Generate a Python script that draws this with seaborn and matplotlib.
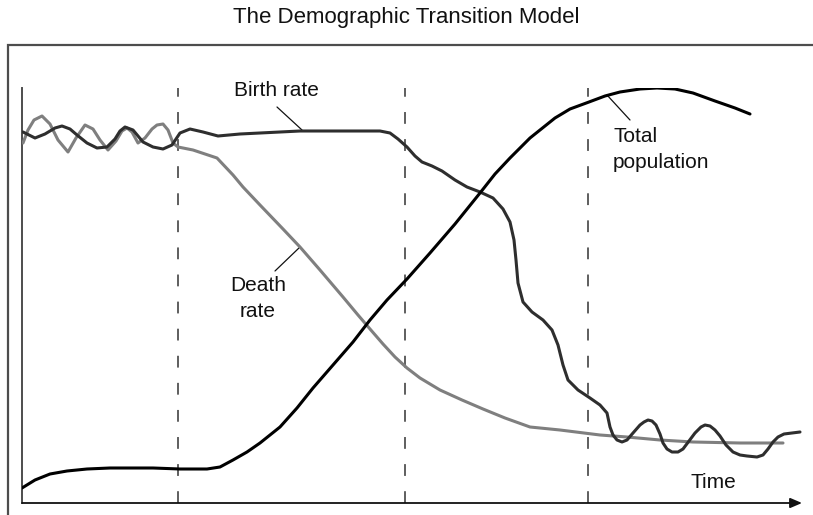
import matplotlib
matplotlib.use("Agg")
import matplotlib.pyplot as plt
from matplotlib.patches import Rectangle
import seaborn as sns
import pandas as pd

# Time runs left to right in arbitrary units; levels are arbitrary units too.
birth_t = [1, 13, 23, 33, 40, 48, 55, 65, 75, 85, 93, 98, 103, 111, 121, 131, 141, 150, 154, 158,
           168, 181, 196, 218, 238, 278, 318, 358, 368, 376, 385, 393, 400, 410, 420, 433, 445, 458,
           471, 481, 488, 492, 494, 496, 501, 510, 521, 530, 536, 541, 546, 556, 568, 578, 585, 588,
           591, 595, 600, 605, 611, 618, 622, 626, 630, 634, 638, 641, 645, 650, 656, 661, 667, 673,
           679, 683, 688, 693, 698, 704, 711, 718, 725, 735, 741, 746, 751, 756, 762, 770, 778]
birth_v = [371, 365, 369, 375, 377, 374, 368, 360, 355, 356, 364, 372, 376, 373, 361, 356, 354, 358,
           364, 370, 374, 371, 367, 369, 370, 372, 372, 372, 370, 364, 356, 347, 341, 337, 332, 323,
           316, 311, 305, 294, 281, 263, 243, 220, 201, 191, 183, 173, 158, 138, 123, 113, 105, 98,
           90, 76, 68, 63, 61, 63, 70, 78, 81, 83, 82, 78, 69, 60, 54, 51, 51, 54, 62, 70, 76, 78,
           77, 73, 67, 58, 51, 48, 47, 46, 48, 54, 61, 66, 69, 70, 71]

death_t = [1, 6, 12, 20, 28, 36, 46, 54, 63, 71, 78, 86, 94, 100, 105, 110, 116, 123, 130, 135,
           141, 146, 151, 156, 171, 195, 211, 221, 238, 261, 278, 298, 321, 336, 348, 361, 373, 385,
           398, 418, 440, 461, 483, 508, 538, 578, 605, 638, 671, 718, 761]
death_v = [360, 373, 383, 387, 379, 363, 351, 365, 378, 374, 363, 353, 362, 372, 375, 371, 360, 365,
           374, 378, 379, 373, 360, 356, 353, 345, 328, 316, 298, 274, 256, 233, 206, 188, 174, 159,
           146, 135, 125, 113, 103, 94, 85, 76, 73, 68, 66, 63, 61, 60, 60]

pop_t = [0, 13, 28, 45, 65, 88, 131, 158, 185, 198, 211, 225, 238, 258, 275, 291, 311, 331, 348,
         365, 385, 408, 433, 458, 473, 488, 508, 533, 548, 567, 583, 598, 618, 635, 653, 671, 693,
         713, 728]
pop_v = [15, 23, 29, 32, 34, 35, 35, 34, 34, 36, 43, 51, 60, 76, 95, 115, 138, 161, 183, 203, 224,
         250, 279, 310, 329, 345, 365, 385, 394, 401, 407, 411, 414, 415, 414, 410, 402, 395, 389]

stage_bounds = [156, 383, 566]

title_text = "The Demographic Transition Model"
birth_label = "Birth rate"
death_label = "Death\nrate"
pop_label = "Total\npopulation"
time_label = "Time"

sns.set_style("white")
plt.rcParams["font.family"] = ["Liberation Sans", "DejaVu Sans"]
plt.rcParams["lines.scale_dashes"] = False

W, H = 813, 515
fig = plt.figure(figsize=(W / 100, H / 100), dpi=100)
ax = fig.add_axes([22 / W, (H - 503) / H, 780 / W, 415 / H])
ax.set_xlim(0, 780)
ax.set_ylim(0, 415)
ax.patch.set_alpha(0)

# Outer frame, open to the right and bottom edges of the image
fig.add_artist(Rectangle((8 / W, -0.2), 1.2, 1.2 - 45 / H,
                         transform=fig.transFigure, fill=False,
                         edgecolor="#4d4d4d", linewidth=1.6))

# Stage boundaries
for xb in stage_bounds:
    ax.axvline(xb, color="#333333", linewidth=1.1, dashes=(8.5, 11), zorder=1)

birth_df = pd.DataFrame({"t": birth_t, "v": birth_v})
death_df = pd.DataFrame({"t": death_t, "v": death_v})
pop_df = pd.DataFrame({"t": pop_t, "v": pop_v})

line_kw = dict(sort=False, estimator=None, solid_capstyle="round", solid_joinstyle="round")
sns.lineplot(data=death_df, x="t", y="v", color="#7f7f7f", linewidth=2.2, ax=ax, zorder=3, **line_kw)
sns.lineplot(data=birth_df, x="t", y="v", color="#2e2e2e", linewidth=2.2, ax=ax, zorder=4, **line_kw)
sns.lineplot(data=pop_df, x="t", y="v", color="#000000", linewidth=2.2, ax=ax, zorder=5, **line_kw)

# Axes: plain left line, arrow along the bottom
for side in ["top", "right", "bottom"]:
    ax.spines[side].set_visible(False)
ax.spines["left"].set_color("#4d4d4d")
ax.spines["left"].set_linewidth(1.4)
ax.annotate("", xy=(780, 0), xytext=(0, 0), xycoords="data",
            arrowprops=dict(arrowstyle="-|>,head_length=0.7,head_width=0.3",
                            color="#111111", linewidth=1.3, shrinkA=0, shrinkB=0),
            annotation_clip=False)
ax.set_xticks([])
ax.set_yticks([])
ax.set_xlabel("")
ax.set_ylabel("")

# Curve labels with leader lines
lab_kw = dict(fontsize=15, color="#111111")
ax.text(254, 412, birth_label, ha="center", va="center", **lab_kw)
ax.plot([255, 280], [396, 373], color="#111111", linewidth=0.9)

ax.text(236, 227, death_label, ha="center", va="top", linespacing=1.45, **lab_kw)
ax.plot([253, 278], [232, 256], color="#111111", linewidth=0.9)

ax.text(591, 376, pop_label, ha="left", va="top", linespacing=1.45, **lab_kw)
ax.plot([585, 608], [408, 383], color="#111111", linewidth=0.9)

ax.text(691, 20, time_label, ha="center", va="center", **lab_kw)

fig.text(406 / W, 1 - 17 / H, title_text, ha="center", va="center", fontsize=16, color="#111111")

fig.savefig("out.png", dpi=100)
